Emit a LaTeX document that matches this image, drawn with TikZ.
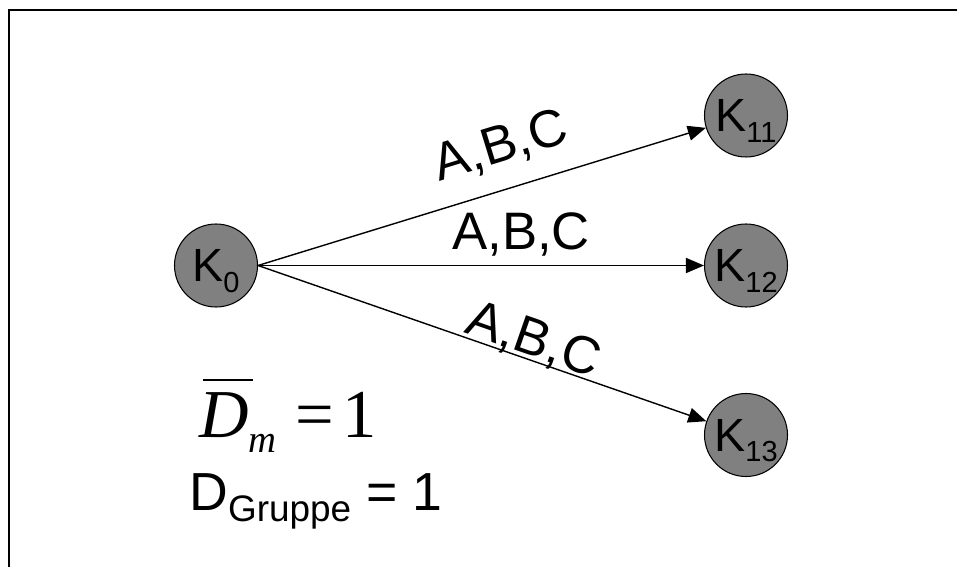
\documentclass[tikz,border=0pt]{standalone}
\usepackage{fontspec}
\setmainfont{Liberation Sans}
\newfontfamily\timesfont{Liberation Serif}
\usetikzlibrary{arrows.meta}
\definecolor{knot}{HTML}{808080}
% lowered index, takes no height in the node
\newcommand{\ksub}[2][6pt]{\raisebox{-#1}[0pt][0pt]{\fontsize{16.5}{18}\selectfont #2}}
\newcommand{\barD}{\makebox[0pt][l]{\hspace{0.05em}\raisebox{0.82em}{\rule{0.73em}{0.03em}}}D}

\begin{document}
\begin{tikzpicture}[x=0.2mm,y=-0.2mm,
  knoten/.style={circle,draw=black,line width=0.6pt,fill=knot,minimum size=1.66cm,inner sep=0pt,font=\fontsize{26.5}{28}\selectfont},
  kante/.style={line width=0.8pt,-{Triangle[length=0.36cm,width=0.3cm]}},
  lbl/.style={sloped,anchor=base,inner sep=0pt,font=\fontsize{30}{32}\selectfont}]
  \useasboundingbox (0,0) rectangle (957,567);
  % frame, only top and left edge visible
  \draw[line width=1.1pt] (8.7,567) -- (8.7,10) -- (957,10);
  \node[knoten] (k0) at (216,265.5) {K\ksub{0}};
  \foreach \n/\y in {11/115.5,12/265.5,13/435}{\node[knoten] (k\n) at (746,\y) {K\ksub{\n}};}
  % edges with labels
  \foreach \n/\p/\h in {11/.57/0.54cm,12/.59/0.31cm,13/.60/0.08cm}{
    \draw[kante] (k0.east) -- (k\n) node[lbl,pos=\p]{\raisebox{\h}{A,B,C}};}
  % formulas
  \node[anchor=base west,inner sep=0pt] (dm) at (199,437) {\timesfont\fontsize{39}{42}\selectfont\textit{\barD}\raisebox{-9pt}{\fontsize{22}{24}\selectfont\textit{m}}\hspace{0.28em}=\hspace{0.12em}1};
  \node[anchor=base west,inner sep=0pt] (dgruppe) at (189,510) {\fontsize{30.5}{32}\selectfont D\raisebox{-6.8pt}{\fontsize{21}{22}\selectfont Gruppe} = 1};
\end{tikzpicture}
\end{document}
